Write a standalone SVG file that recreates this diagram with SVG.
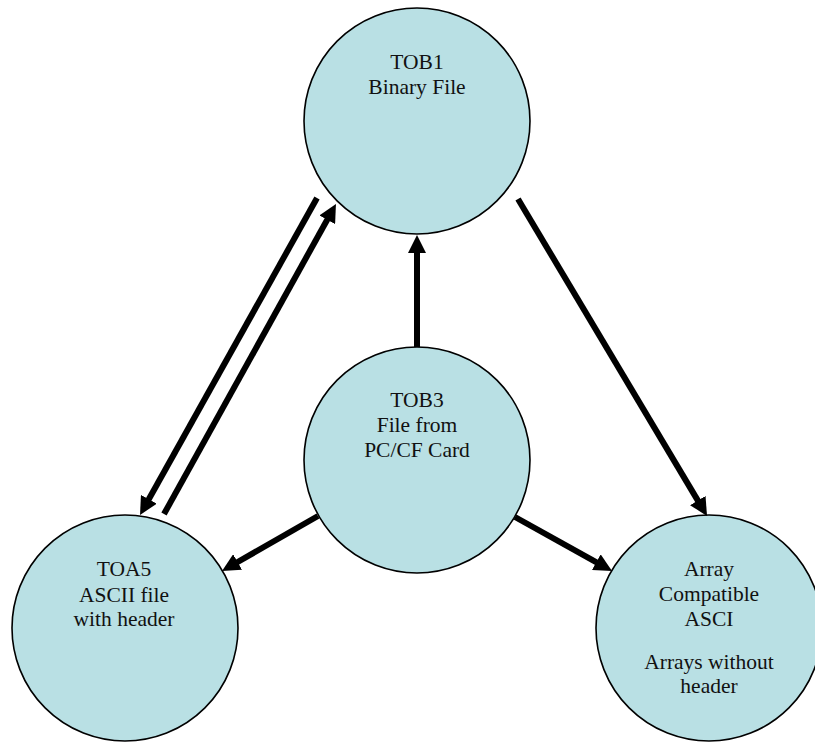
<svg xmlns="http://www.w3.org/2000/svg" width="815" height="743" viewBox="0 0 815 743">
<style>
.node{fill:#B9E0E4;stroke:#000;stroke-width:1.6}
.lbl{font-family:"Liberation Serif","Times New Roman",serif;font-size:21.5px;fill:#111;text-anchor:middle}
.edge{stroke:#000;stroke-width:6;fill:none;marker-end:url(#ah)}
</style>
<defs>
<marker id="ah" markerUnits="userSpaceOnUse" markerWidth="18" markerHeight="18" refX="8" refY="9" orient="auto">
<path d="M0,0 L18,9 L0,18 z" fill="#000"/>
</marker>
</defs>
<rect width="815" height="743" fill="#fff"/>
<g id="tob1">
<circle class="node" cx="417" cy="121" r="113"/>
<text class="lbl" x="417" y="69">TOB1</text>
<text class="lbl" x="417" y="94">Binary File</text>
</g>
<g id="tob3">
<circle class="node" cx="417" cy="460" r="113"/>
<text class="lbl" x="417" y="407">TOB3</text>
<text class="lbl" x="417" y="432">File from</text>
<text class="lbl" x="417" y="457">PC/CF Card</text>
</g>
<g id="toa5">
<circle class="node" cx="125" cy="628" r="113"/>
<text class="lbl" x="124" y="576">TOA5</text>
<text class="lbl" x="124" y="601.5">ASCII file</text>
<text class="lbl" x="124" y="626">with header</text>
</g>
<g id="array">
<circle class="node" cx="709" cy="628" r="113"/>
<text class="lbl" x="709" y="576">Array</text>
<text class="lbl" x="709" y="601">Compatible</text>
<text class="lbl" x="709" y="626">ASCI</text>
<text class="lbl" x="709" y="669">Arrays without</text>
<text class="lbl" x="709" y="693">header</text>
</g>
<g id="connectors">
<line class="edge" x1="417" y1="347" x2="417" y2="245"/>
<line class="edge" x1="518" y1="199" x2="701.9" y2="507.4"/>
<line class="edge" x1="515" y1="517" x2="603.3" y2="566.1"/>
<line class="edge" x1="318" y1="516" x2="230.7" y2="566"/>
<line class="edge" x1="317" y1="198" x2="144.9" y2="506.3"/>
<line class="edge" x1="164" y1="514" x2="331.1" y2="212.7"/>
</g>
</svg>
